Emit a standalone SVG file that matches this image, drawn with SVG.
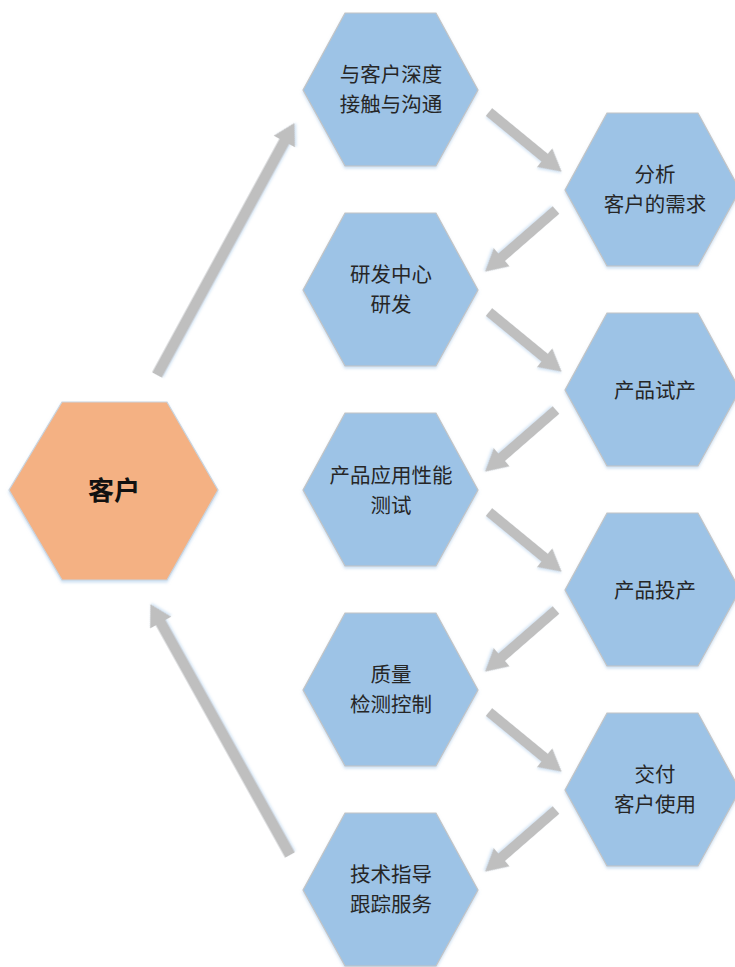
<svg xmlns="http://www.w3.org/2000/svg" xmlns:xlink="http://www.w3.org/1999/xlink" width="735" height="967" viewBox="0 0 735 967">
<style>
.hexb{fill:#9DC3E6;stroke:#C4C4C4;stroke-width:1.2;filter:url(#sh)}
.hexo{fill:#F4B183;stroke:#C9D3DD;stroke-width:1.2;filter:url(#sh)}
.arr{fill:#BFBFBF;filter:url(#sh2)}
text{font-family:"Noto Sans CJK SC","Noto Sans",sans-serif;fill:#262626;text-anchor:middle}
.t{font-size:20.5px}
.big{font-size:26px;font-weight:bold;fill:#111}
</style>
<defs>
<filter id="sh" x="-10%" y="-10%" width="120%" height="125%">
<feDropShadow dx="0" dy="2" stdDeviation="1.5" flood-color="#A9CBEA" flood-opacity="0.6"/>
</filter>
<filter id="sh2" x="-10%" y="-20%" width="120%" height="140%">
<feDropShadow dx="1" dy="1.5" stdDeviation="1" flood-color="#B7D3EE" flood-opacity="0.6"/>
</filter>
<polygon id="hex" points="-88,0 -46,-77 45,-77 87,0 45,76 -46,76"/>
<path id="sa" d="M0,-5 L72,-5 L72,-12 L94,0 L72,12 L72,5 L0,5 Z"/>
<path id="ba" d="M0,-5.5 L266,-5.5 L266,-12 L287,0 L266,12 L266,5.5 L0,5.5 Z"/>
</defs>

<g id="connectors">
<use xlink:href="#ba" class="arr" transform="translate(157,375) rotate(-61.4)"/>
<use xlink:href="#ba" class="arr" transform="translate(290,855) rotate(-119.1)"/>
<use xlink:href="#sa" class="arr" transform="translate(489,112) rotate(39.4)"/>
<use xlink:href="#sa" class="arr" transform="translate(489,312) rotate(39.4)"/>
<use xlink:href="#sa" class="arr" transform="translate(489,512) rotate(39.4)"/>
<use xlink:href="#sa" class="arr" transform="translate(489,712) rotate(39.4)"/>
<use xlink:href="#sa" class="arr" transform="translate(556,210) rotate(139)"/>
<use xlink:href="#sa" class="arr" transform="translate(556,410) rotate(139)"/>
<use xlink:href="#sa" class="arr" transform="translate(556,610) rotate(139)"/>
<use xlink:href="#sa" class="arr" transform="translate(556,810) rotate(139)"/>
</g>

<g id="customer">
<polygon class="hexo" points="9,490 62,402 167,402 218,490 167,580 62,580"/>
<text class="big" x="114" y="500">客户</text>
</g>

<g id="n1">
<use xlink:href="#hex" class="hexb" x="391" y="90"/>
<text class="t" x="391" y="82">与客户深度</text>
<text class="t" x="391" y="112">接触与沟通</text>
</g>
<g id="n2">
<use xlink:href="#hex" class="hexb" x="391" y="290"/>
<text class="t" x="391" y="282">研发中心</text>
<text class="t" x="391" y="312">研发</text>
</g>
<g id="n3">
<use xlink:href="#hex" class="hexb" x="391" y="490"/>
<text class="t" x="391" y="483">产品应用性能</text>
<text class="t" x="391" y="513">测试</text>
</g>
<g id="n4">
<use xlink:href="#hex" class="hexb" x="391" y="690"/>
<text class="t" x="391" y="682">质量</text>
<text class="t" x="391" y="712">检测控制</text>
</g>
<g id="n5">
<use xlink:href="#hex" class="hexb" x="391" y="890"/>
<text class="t" x="391" y="882">技术指导</text>
<text class="t" x="391" y="912">跟踪服务</text>
</g>

<g id="r1">
<use xlink:href="#hex" class="hexb" x="653" y="190"/>
<text class="t" x="655" y="182">分析</text>
<text class="t" x="655" y="212">客户的需求</text>
</g>
<g id="r2">
<use xlink:href="#hex" class="hexb" x="653" y="390"/>
<text class="t" x="655" y="398">产品试产</text>
</g>
<g id="r3">
<use xlink:href="#hex" class="hexb" x="653" y="590"/>
<text class="t" x="655" y="598">产品投产</text>
</g>
<g id="r4">
<use xlink:href="#hex" class="hexb" x="653" y="790"/>
<text class="t" x="655" y="782">交付</text>
<text class="t" x="655" y="812">客户使用</text>
</g>
</svg>
